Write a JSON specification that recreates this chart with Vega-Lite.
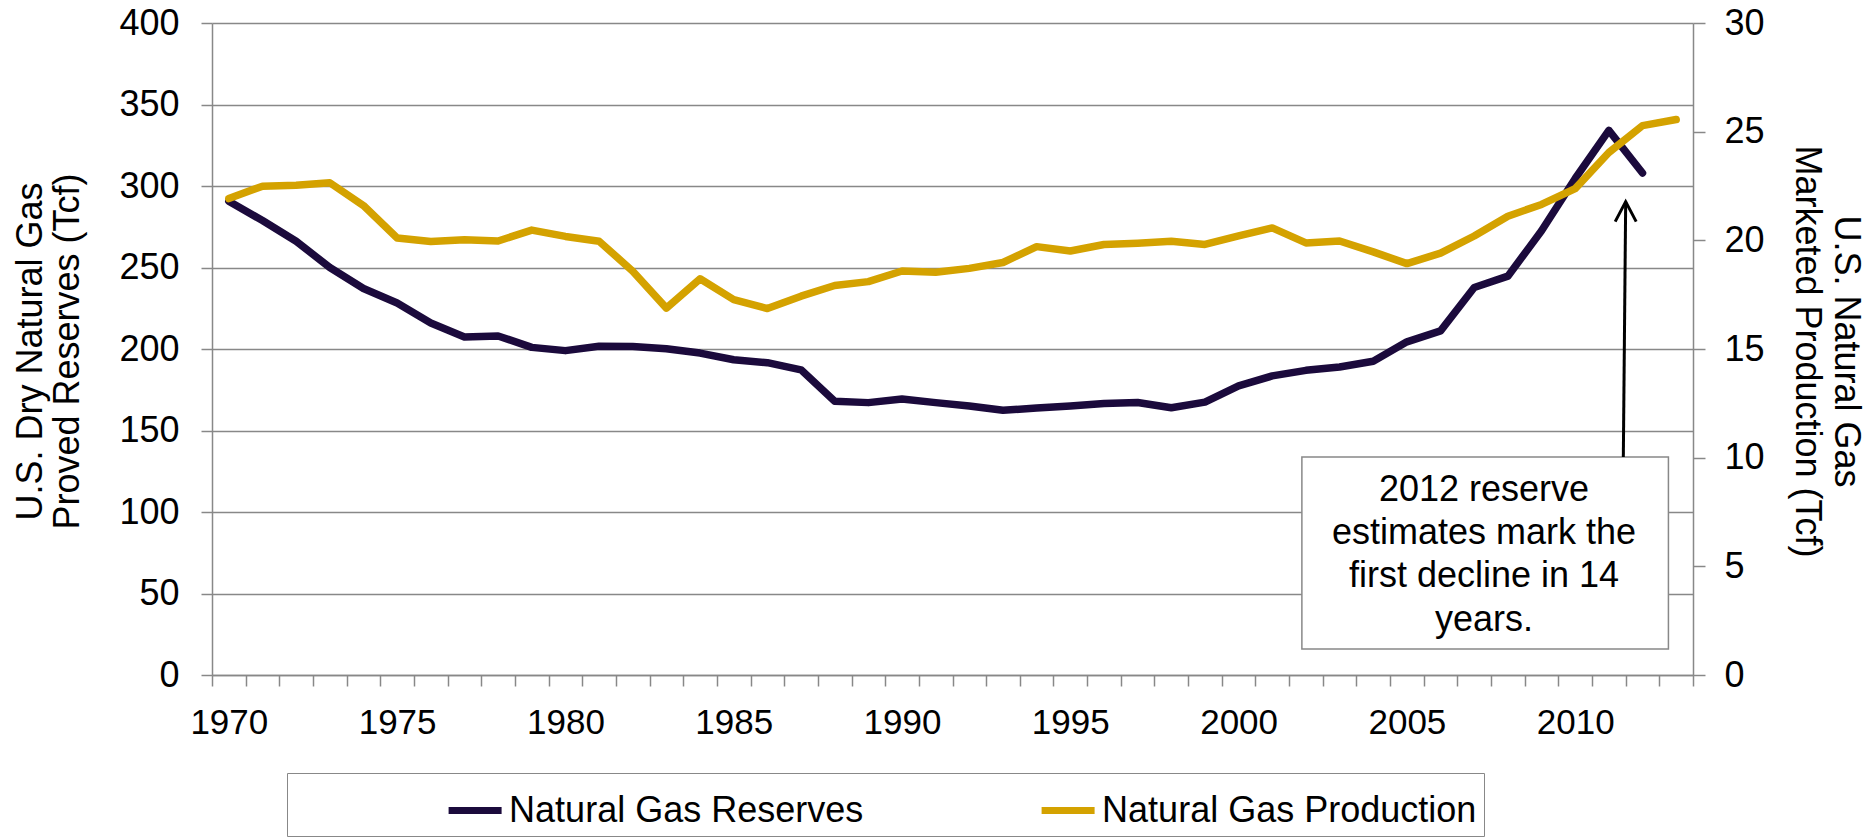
{
  "$schema": "https://vega.github.io/schema/vega-lite/v6.json",
  "width": 1481,
  "height": 652,
  "autosize": {"type": "none"},
  "padding": {"left": 212, "top": 23, "right": 182, "bottom": 163},
  "background": "white",
  "config": {
    "view": {"stroke": null},
    "font": "Liberation Sans",
    "axis": {
      "labelFont": "Liberation Sans",
      "titleFont": "Liberation Sans",
      "labelColor": "#000000",
      "titleColor": "#000000",
      "titleFontWeight": "normal",
      "domainColor": "#888888",
      "tickColor": "#888888",
      "gridColor": "#888888",
      "domainWidth": 1.5,
      "tickWidth": 1.5,
      "gridWidth": 1.5,
      "labelFontSize": 35
    }
  },
  "data": {
    "values": [
      {"year": 1970, "reserves": 290.7, "production": 21.92},
      {"year": 1971, "reserves": 278.8, "production": 22.49},
      {"year": 1972, "reserves": 266.1, "production": 22.53},
      {"year": 1973, "reserves": 250.0, "production": 22.65},
      {"year": 1974, "reserves": 237.1, "production": 21.60},
      {"year": 1975, "reserves": 228.2, "production": 20.11},
      {"year": 1976, "reserves": 216.0, "production": 19.95},
      {"year": 1977, "reserves": 207.4, "production": 20.03},
      {"year": 1978, "reserves": 208.0, "production": 19.97},
      {"year": 1979, "reserves": 201.0, "production": 20.47},
      {"year": 1980, "reserves": 199.0, "production": 20.18},
      {"year": 1981, "reserves": 201.7, "production": 19.96},
      {"year": 1982, "reserves": 201.5, "production": 18.58},
      {"year": 1983, "reserves": 200.2, "production": 16.88},
      {"year": 1984, "reserves": 197.5, "production": 18.23},
      {"year": 1985, "reserves": 193.4, "production": 17.27},
      {"year": 1986, "reserves": 191.6, "production": 16.86},
      {"year": 1987, "reserves": 187.2, "production": 17.43},
      {"year": 1988, "reserves": 168.0, "production": 17.92},
      {"year": 1989, "reserves": 167.1, "production": 18.10},
      {"year": 1990, "reserves": 169.3, "production": 18.59},
      {"year": 1991, "reserves": 167.1, "production": 18.53},
      {"year": 1992, "reserves": 165.0, "production": 18.71},
      {"year": 1993, "reserves": 162.4, "production": 18.98},
      {"year": 1994, "reserves": 163.8, "production": 19.71},
      {"year": 1995, "reserves": 165.1, "production": 19.51},
      {"year": 1996, "reserves": 166.5, "production": 19.81},
      {"year": 1997, "reserves": 167.2, "production": 19.87},
      {"year": 1998, "reserves": 164.0, "production": 19.96},
      {"year": 1999, "reserves": 167.4, "production": 19.81},
      {"year": 2000, "reserves": 177.4, "production": 20.20},
      {"year": 2001, "reserves": 183.5, "production": 20.57},
      {"year": 2002, "reserves": 186.9, "production": 19.88},
      {"year": 2003, "reserves": 189.0, "production": 19.97},
      {"year": 2004, "reserves": 192.5, "production": 19.47},
      {"year": 2005, "reserves": 204.4, "production": 18.93},
      {"year": 2006, "reserves": 211.1, "production": 19.41},
      {"year": 2007, "reserves": 237.7, "production": 20.20},
      {"year": 2008, "reserves": 244.7, "production": 21.11},
      {"year": 2009, "reserves": 272.5, "production": 21.65},
      {"year": 2010, "reserves": 304.6, "production": 22.38},
      {"year": 2011, "reserves": 334.1, "production": 24.04},
      {"year": 2012, "reserves": 308.0, "production": 25.28},
      {"year": 2013, "reserves": null, "production": 25.56}
    ]
  },
  "layer": [
    {
      "mark": {"type": "line", "strokeWidth": 7.5, "strokeCap": "round", "strokeJoin": "round"},
      "encoding": {
        "x": {
          "field": "year",
          "type": "quantitative",
          "scale": {"domain": [1969.5, 2013.5], "nice": false, "zero": false},
          "axis": {
            "orient": "bottom",
            "values": [1969.5, 1970.5, 1971.5, 1972.5, 1973.5, 1974.5, 1975.5, 1976.5, 1977.5, 1978.5, 1979.5, 1980.5, 1981.5, 1982.5, 1983.5, 1984.5, 1985.5, 1986.5, 1987.5, 1988.5, 1989.5, 1990.5, 1991.5, 1992.5, 1993.5, 1994.5, 1995.5, 1996.5, 1997.5, 1998.5, 1999.5, 2000.5, 2001.5, 2002.5, 2003.5, 2004.5, 2005.5, 2006.5, 2007.5, 2008.5, 2009.5, 2010.5, 2011.5, 2012.5, 2013.5],
            "labels": false,
            "grid": false,
            "ticks": true,
            "tickSize": 11,
            "domain": true,
            "title": null
          }
        },
        "y": {
          "field": "reserves",
          "type": "quantitative",
          "scale": {"domain": [0, 400], "nice": false, "zero": true},
          "axis": {
            "orient": "left",
            "values": [0, 50, 100, 150, 200, 250, 300, 350, 400],
            "grid": true,
            "tickSize": 11,
            "labelPadding": 22,
            "labelFontSize": 36,
            "title": ["U.S. Dry Natural Gas", "Proved Reserves (Tcf)"],
            "titleFontSize": 36,
            "titleLineHeight": 37,
            "titleAngle": 270,
            "titleAlign": "center",
            "titleBaseline": "top",
            "titleX": -199,
            "titleY": 328
          }
        },
        "color": {
          "datum": "Natural Gas Reserves",
          "type": "nominal",
          "scale": {
            "domain": ["Natural Gas Reserves", "Natural Gas Production"],
            "range": ["#1B0A3C", "#D4A200"]
          },
          "legend": {
            "orient": "none",
            "legendX": 75,
            "legendY": 750,
            "direction": "horizontal",
            "columns": 2,
            "title": null,
            "symbolType": "stroke",
            "symbolSize": 2809,
            "symbolStrokeWidth": 7,
            "symbolOffset": 150.6,
            "labelOffset": 4,
            "columnPadding": 24,
            "labelFont": "Liberation Sans",
            "labelFontSize": 36,
            "labelColor": "#000000",
            "labelLimit": 1000,
            "padding": 7.5,
            "strokeColor": "#888888",
            "fillColor": "#FFFFFF"
          }
        }
      }
    },
    {
      "data": {"values": [{}]},
      "mark": {"type": "rect", "fill": "#FFFFFF", "stroke": "#888888", "strokeWidth": 1.5},
      "encoding": {
        "x": {"datum": 2001.88, "type": "quantitative", "axis": null},
        "x2": {"datum": 2012.77},
        "y": {"datum": 133.7, "type": "quantitative", "scale": {"domain": [0, 400], "nice": false}, "axis": null},
        "y2": {"datum": 15.95}
      }
    },
    {
      "data": {"values": [{}]},
      "mark": {
        "type": "text",
        "text": ["2012 reserve", "estimates mark the", "first decline in 14", "years."],
        "font": "Liberation Sans",
        "fontSize": 36,
        "lineHeight": 43.3,
        "align": "center",
        "baseline": "middle",
        "color": "#000000"
      },
      "encoding": {
        "x": {"datum": 2007.29, "type": "quantitative", "axis": null},
        "y": {"datum": 113.7, "type": "quantitative", "scale": {"domain": [0, 400], "nice": false}, "axis": null}
      }
    },
    {
      "data": {"values": [{}]},
      "mark": {"type": "rule", "color": "#000000", "strokeWidth": 3},
      "encoding": {
        "x": {"datum": 2011.43, "type": "quantitative", "axis": null},
        "x2": {"datum": 2011.5},
        "y": {"datum": 133.7, "type": "quantitative", "scale": {"domain": [0, 400], "nice": false}, "axis": null},
        "y2": {"datum": 290.4}
      }
    },
    {
      "data": {"values": [{}]},
      "mark": {"type": "point", "shape": "M-1,1L0,-0.9L1,1", "filled": false, "stroke": "#000000", "strokeWidth": 3, "size": 441, "opacity": 1},
      "encoding": {
        "x": {"datum": 2011.5, "type": "quantitative", "axis": null},
        "y": {"datum": 284.6, "type": "quantitative", "scale": {"domain": [0, 400], "nice": false}, "axis": null}
      }
    },
    {
      "mark": {"type": "line", "strokeWidth": 7.5, "strokeCap": "round", "strokeJoin": "round"},
      "encoding": {
        "x": {
          "field": "year",
          "type": "quantitative",
          "scale": {"domain": [1969.5, 2013.5], "nice": false, "zero": false},
          "axis": {
            "orient": "bottom",
            "values": [1970, 1975, 1980, 1985, 1990, 1995, 2000, 2005, 2010],
            "format": "d",
            "ticks": false,
            "tickSize": 0,
            "domain": false,
            "grid": false,
            "labelPadding": 30,
            "title": null
          }
        },
        "y": {
          "field": "production",
          "type": "quantitative",
          "scale": {"domain": [0, 30], "nice": false, "zero": true},
          "axis": {
            "orient": "right",
            "values": [0, 5, 10, 15, 20, 25, 30],
            "grid": false,
            "tickSize": 12,
            "labelPadding": 19,
            "labelFontSize": 36,
            "title": ["U.S. Natural Gas", "Marketed Production (Tcf)"],
            "titleFontSize": 36,
            "titleLineHeight": 39,
            "titleAngle": 90,
            "titleAlign": "center",
            "titleBaseline": "top",
            "titleX": 169,
            "titleY": 328
          }
        },
        "color": {"datum": "Natural Gas Production", "type": "nominal"}
      }
    }
  ],
  "resolve": {"scale": {"y": "independent"}, "axis": {"x": "independent"}}
}
